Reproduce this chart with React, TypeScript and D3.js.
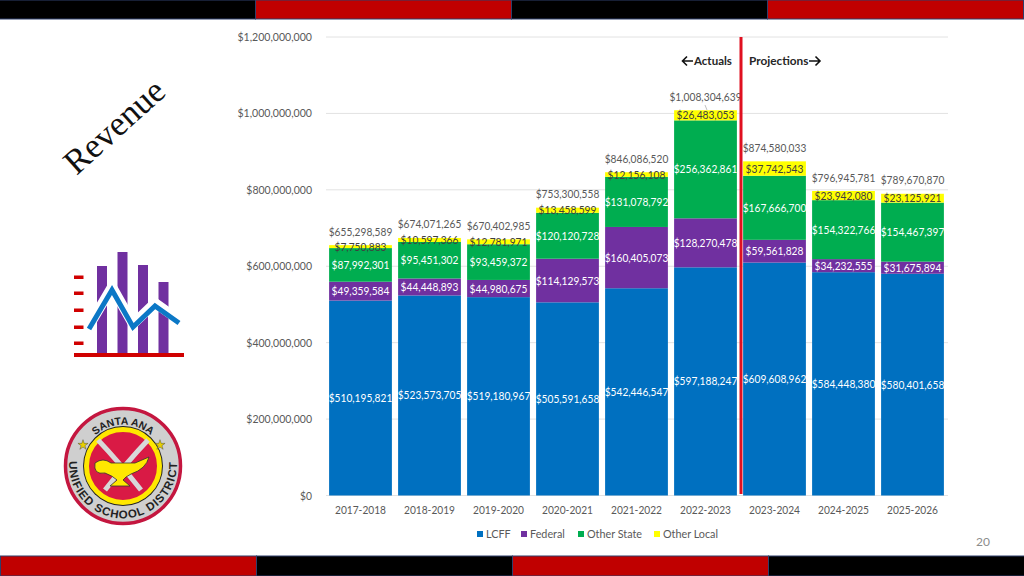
import React from "react";
import * as d3 from "d3";

const years = ["2017-2018", "2018-2019", "2019-2020", "2020-2021", "2021-2022", "2022-2023", "2023-2024", "2024-2025", "2025-2026"];
const lcff = [510195821, 523573705, 519180967, 505591658, 542446547, 597188247, 609608962, 584448380, 580401658];
const federal = [49359584, 44448893, 44980675, 114129573, 160405073, 128270478, 59561828, 34232555, 31675894];
const otherState = [87992301, 95451302, 93459372, 120120728, 131078792, 256362861, 167666700, 154322766, 154467397];
const otherLocal = [7750883, 10597366, 12781971, 13458599, 12156108, 26483053, 37742543, 23942080, 23125921];
const totals = [655298589, 674071265, 670402985, 753300558, 846086520, 1008304639, 874580033, 796945781, 789670870];
const yTicks = [0, 200000000, 400000000, 600000000, 800000000, 1000000000, 1200000000];
const seriesNames = ["LCFF", "Federal", "Other State", "Other Local"];
const seriesColors = ["#0070c0", "#7030a0", "#00ad50", "#ffff00"];
const iconBars = [266, 252, 265, 282];
const iconLine: [number, number][] = [[89, 329], [112, 290], [133, 327], [155, 306], [179, 323]];

const font = "Lato, 'Open Sans', sans-serif";
const money = (v: number) => "$" + d3.format(",")(v);
// Lato is wider than the slide's font, so money labels get squeezed to the reference width
const moneyWidth = (s: string, digit: number) =>
  s.split("").reduce((w, c) => w + (c === "," ? digit / 2 : digit), 0);

const x = d3.scaleBand<string>().domain(years).range([326, 947]).paddingInner(0.09).paddingOuter(0.045);
const y = d3.scaleLinear().domain([0, 1200000000]).range([495.5, 37]);

const stacked = d3.stack<number>()
  .keys(["0", "1", "2", "3"])
  .value((i, key) => [lcff, federal, otherState, otherLocal][+key][i])(years.map((_, i) => i));

const Banner = ({ top, h, first }: { top: number; h: number; first: string }) => (
  <g>
    {[0, 1, 2, 3].map((i) => (
      <rect key={i} x={i * 256 - (top === 0 ? 0.5 : -0.5)} y={top} width={256} height={h}
        fill={i % 2 === 0 ? first : first === "#000000" ? "#c00000" : "#000000"}
        stroke="#2f3f6b" strokeWidth={1} />
    ))}
  </g>
);

const Icon = () => {
  const line = d3.line<[number, number]>();
  return (
    <g>
      {iconBars.map((t, i) => (
        <rect key={i} x={97 + i * 20.5} y={t} width={10} height={355 - t} fill="#7030a0" />
      ))}
      {[277, 293, 310, 327, 343].map((t) => (
        <rect key={t} x={74} y={t - 1.5} width={9.5} height={3.5} fill="#d00000" />
      ))}
      <path d={line(iconLine) || ""} fill="none" stroke="#ffffff" strokeWidth={10} transform="translate(0,-3)" />
      <path d={line(iconLine) || ""} fill="none" stroke="#0b78c6" strokeWidth={5} />
      <rect x={74} y={353} width={110} height={4} fill="#d00000" />
    </g>
  );
};

const Logo = () => {
  const cx = 123;
  const cy = 466;
  const star = d3.symbol(d3.symbolStar, 32)() || "";
  return (
    <g>
      <defs>
        <path id="arcTop" d={`M ${cx - 36} ${cy - 20} A 41 41 0 0 1 ${cx + 36} ${cy - 20}`} />
        <path id="arcBottom" d={`M ${cx - 53} ${cy - 12} A 54 54 0 1 0 ${cx + 53} ${cy - 12}`} />
      </defs>
      <circle cx={cx} cy={cy} r={57.5} fill="#cfcfcf" stroke="#c4163f" strokeWidth={3.5} />
      <circle cx={cx} cy={cy} r={40} fill="#222" />
      <circle cx={cx} cy={cy} r={36.5} fill="#d91a45" stroke="#ffe800" strokeWidth={5} />
      <path d={`M ${cx - 25} ${cy - 26} Q ${cx - 5} ${cy - 5} ${cx + 18} ${cy + 24}`} stroke="#d8d8d8" strokeWidth={5} fill="none" />
      <path d={`M ${cx + 25} ${cy - 26} Q ${cx + 5} ${cy - 5} ${cx - 18} ${cy + 24}`} stroke="#d8d8d8" strokeWidth={5} fill="none" />
      <path d={`M ${cx - 28} ${cy - 3} q 8 -6 16 0 h 24 l 14 -6 q -3 12 -18 17 q -6 3 -8 6 l 7 6 h -20 l 7 -6 q -4 -4 -12 -7 q -12 2 -10 -10 z`}
        fill="#ffe800" stroke="#333" strokeWidth={0.8} />
      <text fontFamily="'Liberation Sans', sans-serif" fontWeight={700} fontSize={10.5} fill="#222">
        <textPath href="#arcTop" startOffset="50%" textAnchor="middle">SANTA ANA</textPath>
      </text>
      <text fontFamily="'Liberation Sans', sans-serif" fontWeight={700} fontSize={11.5} letterSpacing={0.9} fill="#222">
        <textPath href="#arcBottom" startOffset="50%" textAnchor="middle">UNIFIED SCHOOL DISTRICT</textPath>
      </text>
      <path d={star} transform={`translate(${cx - 40},${cy - 21})`} fill="#e8d000" stroke="#333" strokeWidth={0.4} />
      <path d={star} transform={`translate(${cx + 37},${cy - 21})`} fill="#e8d000" stroke="#333" strokeWidth={0.4} />
    </g>
  );
};

export default function App() {
  const bw = x.bandwidth();
  const labelColor = ["#ffffff", "#ffffff", "#ffffff", "#404040"];
  return (
    <svg width={1024} height={576} viewBox="0 0 1024 576"
      style={{ position: "absolute", left: 0, top: 0, background: "#fff" }} fontFamily={font}>
      <Banner top={0} h={19} first="#000000" />
      <Banner top={556} h={20} first="#c00000" />

      {yTicks.map((t) => (
        <g key={t}>
          <line x1={326} x2={948} y1={y(t)} y2={y(t)} stroke="#e2e2e2" strokeWidth={1} />
          <text x={312} y={y(t) + 4} textAnchor="end" fontSize={12} fill="#595959"
            textLength={moneyWidth(money(t), 5.97)} lengthAdjust="spacingAndGlyphs">{money(t)}</text>
        </g>
      ))}

      {stacked.map((s, k) => (
        <g key={k}>
          {s.map((d, i) => (
            <rect key={i} x={x(years[i])} y={y(d[1])} width={bw} height={y(d[0]) - y(d[1])}
              fill={seriesColors[k]} />
          ))}
        </g>
      ))}
      {stacked.map((s, k) => (
        <g key={k}>
          {s.map((d, i) => (
            <text key={i} x={(x(years[i]) as number) + bw / 2} y={y((d[0] + d[1]) / 2) + 4}
              textAnchor="middle" fontSize={12} fill={labelColor[k]}
              textLength={moneyWidth(money(d[1] - d[0]), 5.78)} lengthAdjust="spacingAndGlyphs">{money(d[1] - d[0])}</text>
          ))}
        </g>
      ))}
      {totals.map((v, i) => (
        <text key={i} x={(x(years[i]) as number) + bw / 2} y={y(v) - 9.5}
          textAnchor="middle" fontSize={12} fill="#595959"
          textLength={moneyWidth(money(v), 5.78)} lengthAdjust="spacingAndGlyphs">{money(v)}</text>
      ))}
      <line x1={705} x2={707} y1={105} y2={110} stroke="#a6a6a6" strokeWidth={0.7} />

      {years.map((yr) => (
        <text key={yr} x={(x(yr) as number) + bw / 2} y={514} textAnchor="middle" fontSize={11.5} fill="#595959"
          textLength={51} lengthAdjust="spacingAndGlyphs">{yr}</text>
      ))}

      <rect x={739.5} y={37} width={3} height={457} fill="#e01020" />
      <text x={694} y={65} fontSize={11.5} fontWeight={700} fill="#262626">Actuals</text>
      <text x={749} y={65} fontSize={11.8} fontWeight={700} fill="#262626">Projections</text>
      <path d="M 693 61 H 683 M 687 56.5 L 682.5 61 L 687 65.5" fill="none" stroke="#111" strokeWidth={1.6} />
      <path d="M 809 61 H 820 M 815.5 56.5 L 820 61 L 815.5 65.5" fill="none" stroke="#111" strokeWidth={1.6} />

      {seriesNames.map((n, i) => {
        const lx = [477, 521, 578, 654][i];
        return (
          <g key={n}>
            <rect x={lx} y={531} width={6} height={6} fill={seriesColors[i]} />
            <text x={lx + 9} y={538} fontSize={10.8} fill="#595959">{n}</text>
          </g>
        );
      })}

      <text x={983} y={546} textAnchor="middle" fontSize={12} fill="#8c8c8c">20</text>

      <text transform="translate(122,135) rotate(-42)" textAnchor="middle" fontSize={35}
        fontFamily="'Liberation Serif', 'DejaVu Serif', serif" fill="#111">Revenue</text>

      <Icon />
      <Logo />
    </svg>
  );
}
